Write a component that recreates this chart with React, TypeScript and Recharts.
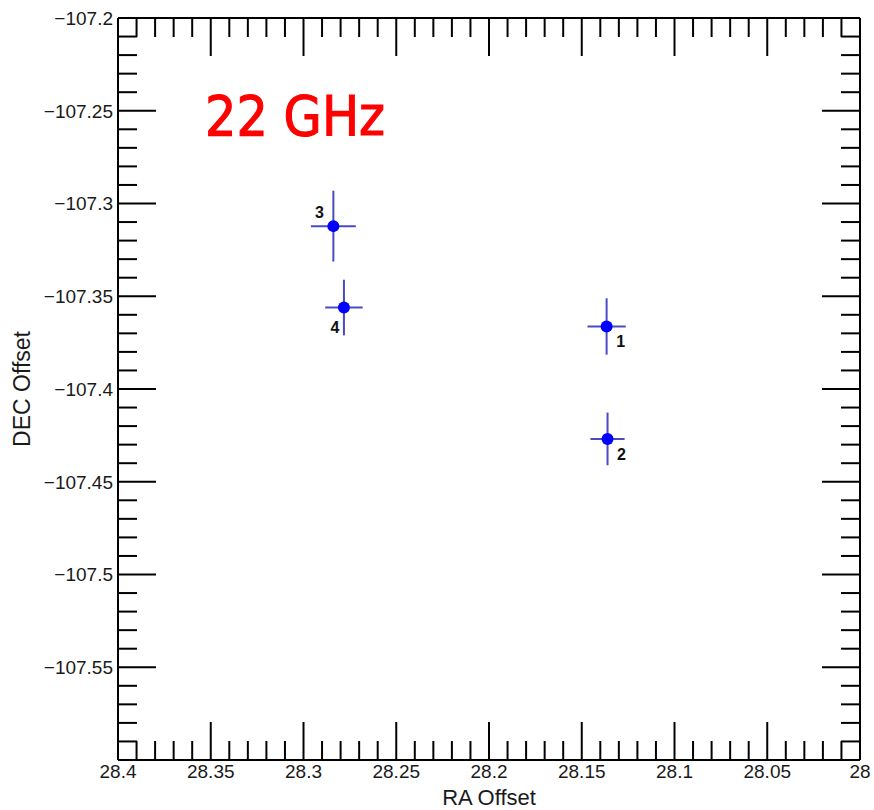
import React from 'react';
import { ScatterChart, Scatter, XAxis, YAxis, ErrorBar } from 'recharts';

// ---- data ----
const ids = ['1', '2', '3', '4'];
const raOffset = [28.1366, 28.1361, 28.2839, 28.2782];
const decOffset = [-107.3663, -107.4269, -107.3122, -107.3561];
const raError = [0.0103, 0.0092, 0.0121, 0.0101];
const decError = [0.0152, 0.0142, 0.0191, 0.015];
const labelSide = ['br', 'br', 'tl', 'bl'];

const xDomain: [number, number] = [28, 28.4];
const yDomain: [number, number] = [-107.6, -107.2];
const xTicks = Array.from({ length: 41 }, (_, i) => +(28 + i * 0.01).toFixed(2));
const yTicks = Array.from({ length: 41 }, (_, i) => +(-107.6 + i * 0.01).toFixed(2));
const xLabeled = [28, 28.05, 28.1, 28.15, 28.2, 28.25, 28.3, 28.35, 28.4];
const yLabeled = [-107.55, -107.5, -107.45, -107.4, -107.35, -107.3, -107.25, -107.2];

const data = ids.map((id, i) => ({
  id,
  side: labelSide[i],
  ra: raOffset[i],
  dec: decOffset[i],
  ex: raError[i],
  ey: decError[i],
}));

const FONT = '"Liberation Sans", Arial, Helvetica, sans-serif';
const TOP = 18; // plot top edge (layout)
const MINOR = 19;
const MAJOR = 38;
const isMajor = (v: number) => Math.round(v * 100) % 5 === 0;
const has = (list: number[], v: number) => list.some((l) => Math.abs(l - v) < 1e-6);
const fmt = (v: number) => {
  const s = String(+Math.abs(v).toFixed(2));
  return v < 0 ? '\u2212' + s : s;
};

const BottomTick = (p: any) => {
  const v = p.payload.value;
  const len = isMajor(v) ? MAJOR : MINOR;
  return (
    <g>
      <line x1={p.x} x2={p.x} y1={p.y} y2={p.y - len} stroke="#000" strokeWidth={2} />
      <line x1={p.x} x2={p.x} y1={TOP} y2={TOP + len} stroke="#000" strokeWidth={2} />
      {has(xLabeled, v) && (
        <text x={p.x} y={p.y + 18} textAnchor="middle" fontFamily={FONT} fontSize={19} fill="#1a1a1a">
          {fmt(v)}
        </text>
      )}
    </g>
  );
};
const LeftTick = (p: any) => {
  const v = p.payload.value;
  const len = isMajor(v) ? MAJOR : MINOR;
  return (
    <g>
      <line x1={p.x} x2={p.x + len} y1={p.y} y2={p.y} stroke="#000" strokeWidth={2} />
      {has(yLabeled, v) && (
        <text x={p.x - 5} y={p.y} dy="0.36em" textAnchor="end" fontFamily={FONT} fontSize={19} fill="#1a1a1a">
          {fmt(v)}
        </text>
      )}
    </g>
  );
};
const RightTick = (p: any) => {
  const v = p.payload.value;
  const len = isMajor(v) ? MAJOR : MINOR;
  return <line x1={p.x} x2={p.x - len} y1={p.y} y2={p.y} stroke="#000" strokeWidth={2} />;
};

const sideOffset: Record<string, [number, number]> = {
  br: [14, 21],
  tl: [-14, -8],
  bl: [-9, 25],
};

const PointShape = (p: any) => {
  const [dx, dy] = sideOffset[p.payload.side] || [12, 12];
  return (
    <g>
      <circle cx={p.cx} cy={p.cy} r={6} fill="#0000ff" />
      <text
        x={p.cx + dx}
        y={p.cy + dy}
        textAnchor="middle"
        fontFamily={FONT}
        fontWeight="bold"
        fontSize={16}
        fill="#111"
      >
        {p.payload.id}
      </text>
    </g>
  );
};

export default function App() {
  return (
    <div style={{ position: 'absolute', left: 0, top: 0, width: 874, height: 810, background: '#fff' }}>
      <ScatterChart width={874} height={810} margin={{ top: 0, right: 0, bottom: 0, left: 0 }}>
        <XAxis
          dataKey="ra"
          type="number"
          domain={xDomain}
          reversed
          allowDataOverflow
          ticks={xTicks}
          interval={0}
          tickSize={0}
          tickMargin={0}
          tick={BottomTick}
          tickLine={false}
          axisLine={{ stroke: '#000', strokeWidth: 2 }}
          height={50}
          label={({ viewBox }: any) => (
            <text
              x={viewBox.x + viewBox.width / 2}
              y={viewBox.y + 45}
              textAnchor="middle"
              fontFamily={FONT}
              fontSize={22}
              fill="#1a1a1a"
            >
              RA Offset
            </text>
          )}
        />
        <XAxis
          xAxisId="top"
          orientation="top"
          type="number"
          domain={xDomain}
          reversed
          allowDataOverflow
          tick={false}
          tickLine={false}
          axisLine={{ stroke: '#000', strokeWidth: 2 }}
          height={18}
        />
        <YAxis
          dataKey="dec"
          type="number"
          domain={yDomain}
          allowDataOverflow
          ticks={yTicks}
          interval={0}
          tickSize={0}
          tickMargin={0}
          tick={LeftTick}
          tickLine={false}
          axisLine={{ stroke: '#000', strokeWidth: 2 }}
          width={118}
          label={({ viewBox }: any) => {
            const cx = viewBox.x + 22;
            const cy = viewBox.y + viewBox.height / 2;
            return (
              <text
                x={cx}
                y={cy}
                dy="0.36em"
                transform={`rotate(-90 ${cx} ${cy})`}
                textAnchor="middle"
                fontFamily={FONT}
                fontSize={23}
                fill="#1a1a1a"
              >
                DEC Offset
              </text>
            );
          }}
        />
        <YAxis
          yAxisId="right"
          orientation="right"
          type="number"
          domain={yDomain}
          allowDataOverflow
          ticks={yTicks}
          interval={0}
          tickSize={0}
          tickMargin={0}
          tick={RightTick}
          tickLine={false}
          axisLine={{ stroke: '#000', strokeWidth: 2 }}
          width={14}
        />
        <Scatter data={data} shape={PointShape} isAnimationActive={false}>
          <ErrorBar dataKey="ex" direction="x" width={0} stroke="#4a4ac4" strokeWidth={2} />
          <ErrorBar dataKey="ey" direction="y" width={0} stroke="#4a4ac4" strokeWidth={2} />
        </Scatter>
      </ScatterChart>
      <svg
        width={874}
        height={810}
        style={{ position: 'absolute', left: 0, top: 0, pointerEvents: 'none' }}
      >
        <text
          x={205}
          y={135}
          fontFamily='"DejaVu Sans", sans-serif'
          fontSize={56}
          textLength={180}
          lengthAdjust="spacingAndGlyphs"
          fill="#ff0000"
          stroke="#ff0000"
          strokeWidth={1.2}
        >
          22 GHz
        </text>
      </svg>
    </div>
  );
}
